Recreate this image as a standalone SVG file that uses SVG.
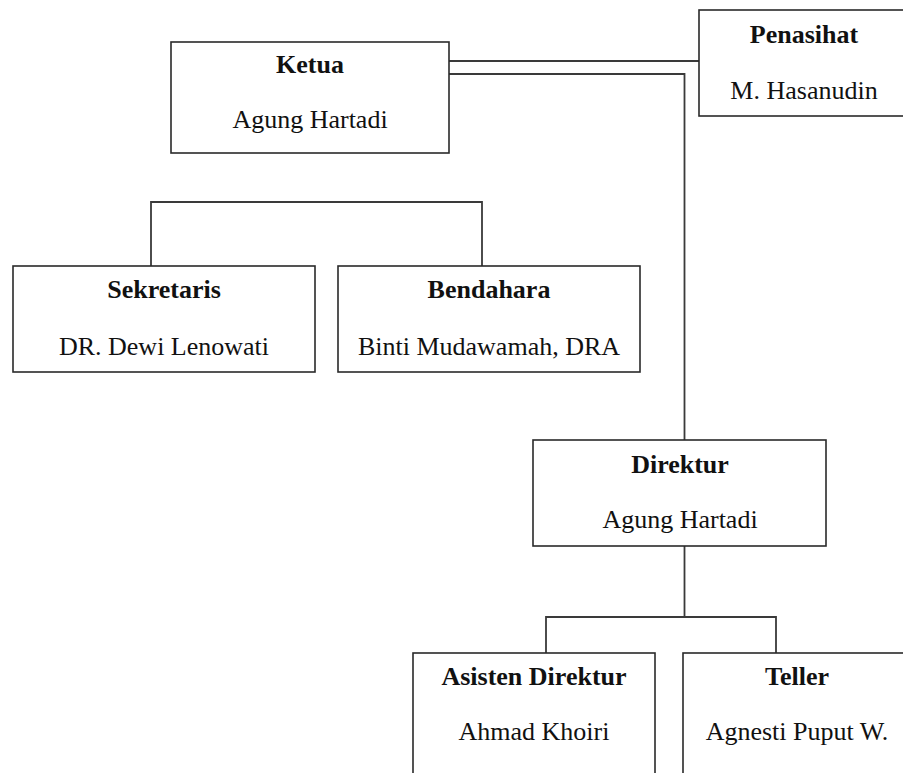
<svg xmlns="http://www.w3.org/2000/svg" width="903" height="773" viewBox="0 0 903 773">
<style>
.box{fill:#fff;stroke:#2a2a2a;stroke-width:1.6}
.ln{fill:none;stroke:#3a3a3a;stroke-width:1.8}
text{font-family:"Liberation Serif","Times New Roman",serif;font-size:26px;fill:#111;text-anchor:middle}
.t{font-weight:bold}
</style>
<rect width="903" height="773" fill="#fff"/>
<g id="connectors">
<polyline class="ln" points="449,61 699,61"/>
<polyline class="ln" points="449,74 684.5,74 684.5,440"/>
<polyline class="ln" points="151,266 151,202 482,202 482,266"/>
<polyline class="ln" points="684.5,546 684.5,617"/>
<polyline class="ln" points="546,653 546,617 776,617 776,653"/>
</g>
<g id="ketua">
<rect class="box" x="171" y="42" width="278" height="111"/>
<text class="t" x="310" y="73">Ketua</text>
<text x="310" y="128">Agung Hartadi</text>
</g>
<g id="penasihat">
<rect class="box" x="699" y="10" width="210" height="106"/>
<text class="t" x="804" y="43">Penasihat</text>
<text x="804" y="99">M. Hasanudin</text>
</g>
<g id="sekretaris">
<rect class="box" x="13" y="266" width="302" height="106"/>
<text class="t" x="164" y="298">Sekretaris</text>
<text x="164" y="355">DR. Dewi Lenowati</text>
</g>
<g id="bendahara">
<rect class="box" x="338" y="266" width="302" height="106"/>
<text class="t" x="489" y="298">Bendahara</text>
<text x="489" y="355">Binti Mudawamah, DRA</text>
</g>
<g id="direktur">
<rect class="box" x="533" y="440" width="293" height="106"/>
<text class="t" x="680" y="473">Direktur</text>
<text x="680" y="528">Agung Hartadi</text>
</g>
<g id="asisten">
<rect class="box" x="413" y="653" width="242" height="140"/>
<text class="t" x="534" y="685">Asisten Direktur</text>
<text x="534" y="740">Ahmad Khoiri</text>
</g>
<g id="teller">
<rect class="box" x="683" y="653" width="228" height="140"/>
<text class="t" x="797" y="685">Teller</text>
<text x="797" y="740">Agnesti Puput W.</text>
</g>
</svg>
